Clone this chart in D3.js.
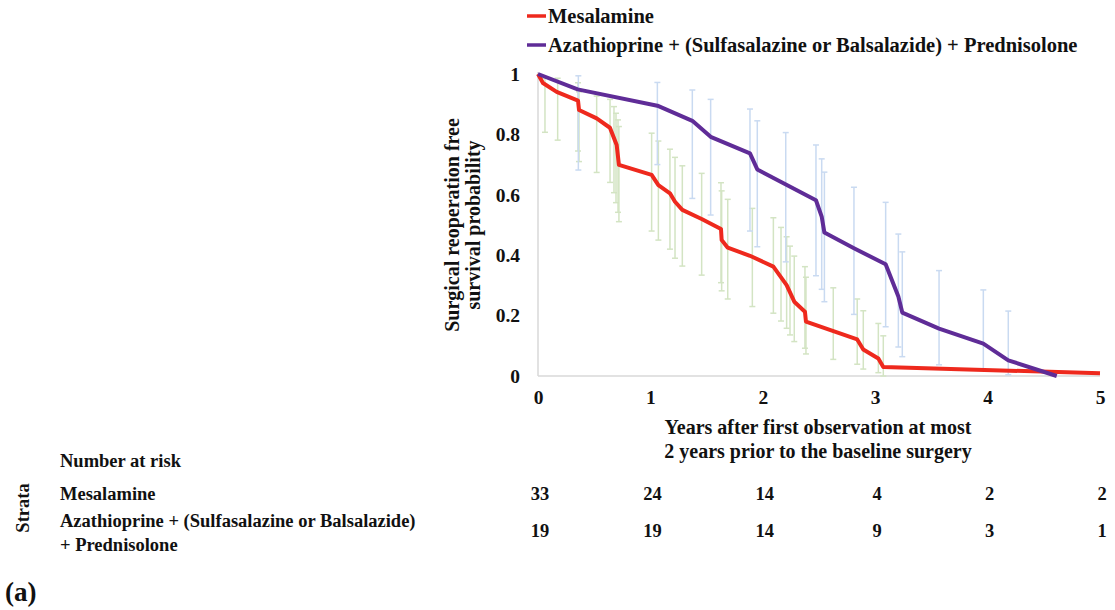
<!DOCTYPE html>
<html>
<head>
<meta charset="utf-8">
<script src="https://cdn.jsdelivr.net/npm/d3@7"></script>
<style>
  body { margin: 0; background: #fff; }
  svg text { font-family: "Liberation Serif", "Times New Roman", serif; font-weight: bold; fill: #111; }
</style>
</head>
<body>
<div id="chart"></div>
<script>
// survival curves (years, probability)
const mesTime = [0, 0.044, 0.166, 0.356, 0.365, 0.522, 0.640, 0.700, 0.720, 1.011, 1.071, 1.174, 1.219, 1.284, 1.456, 1.628, 1.634, 1.688, 1.886, 2.094, 2.212, 2.280, 2.375, 2.384, 2.840, 2.894, 3.028, 3.072, 5.0];
const mesSurv = [1, 0.970, 0.941, 0.912, 0.881, 0.853, 0.822, 0.765, 0.699, 0.666, 0.632, 0.605, 0.577, 0.550, 0.520, 0.487, 0.450, 0.425, 0.398, 0.362, 0.301, 0.246, 0.213, 0.180, 0.121, 0.088, 0.058, 0.030, 0.009];

const azaTime = [0, 0.353, 1.062, 1.373, 1.536, 1.886, 1.951, 2.473, 2.524, 2.548, 2.811, 3.093, 3.206, 3.241, 3.568, 3.962, 4.184, 4.615];
const azaSurv = [1, 0.949, 0.895, 0.845, 0.792, 0.737, 0.684, 0.582, 0.528, 0.475, 0.423, 0.370, 0.263, 0.210, 0.157, 0.107, 0.052, 0.0];

// confidence bars (time, lower, upper)
const mesCiTime = [0.062, 0.175, 0.356, 0.365, 0.522, 0.641, 0.676, 0.694, 0.712, 0.720, 1.011, 1.071, 1.174, 1.219, 1.284, 1.456, 1.628, 1.634, 1.688, 1.907, 2.094, 2.162, 2.212, 2.242, 2.280, 2.375, 2.384, 2.627, 2.840, 2.894, 3.028, 3.072];
const mesCiLow  = [0.807, 0.781, 0.745, 0.710, 0.674, 0.641, 0.607, 0.574, 0.542, 0.511, 0.480, 0.450, 0.420, 0.390, 0.364, 0.334, 0.309, 0.282, 0.255, 0.230, 0.208, 0.182, 0.158, 0.136, 0.114, 0.092, 0.073, 0.055, 0.039, 0.023, 0.011, 0.0];
const mesCiHigh = [0.986, 0.986, 0.971, 0.941, 0.927, 0.916, 0.892, 0.870, 0.848, 0.826, 0.804, 0.778, 0.751, 0.724, 0.696, 0.671, 0.640, 0.613, 0.585, 0.555, 0.524, 0.492, 0.461, 0.430, 0.397, 0.362, 0.327, 0.292, 0.255, 0.216, 0.174, 0.133];

const azaCiTime = [0.359, 1.062, 1.373, 1.536, 1.886, 1.951, 2.204, 2.473, 2.524, 2.548, 2.811, 3.093, 3.206, 3.241, 3.568, 3.962, 4.184];
const azaCiLow  = [0.682, 0.700, 0.588, 0.533, 0.480, 0.428, 0.378, 0.332, 0.287, 0.246, 0.204, 0.163, 0.096, 0.064, 0.037, 0.020, 0.004];
const azaCiHigh = [0.994, 0.972, 0.947, 0.916, 0.884, 0.845, 0.806, 0.765, 0.719, 0.675, 0.625, 0.575, 0.470, 0.411, 0.349, 0.285, 0.215];

const yTicks = [0, 0.2, 0.4, 0.6, 0.8, 1];
const xTicks = [0, 1, 2, 3, 4, 5];
const riskMes = [33, 24, 14, 4, 2, 2];
const riskAza = [19, 19, 14, 9, 3, 1];

const width = 1115, height = 610;
const svg = d3.select("#chart").append("svg")
    .attr("width", width)
    .attr("height", height);

const x = d3.scaleLinear().domain([0, 5]).range([538, 1100]);
const y = d3.scaleLinear().domain([0, 1]).range([376, 74]);

// axes
svg.append("line").attr("x1", x(0)).attr("x2", x(0)).attr("y1", y(1) - 2).attr("y2", y(0))
    .attr("stroke", "#d9d9d9").attr("stroke-width", 1.5);
svg.append("line").attr("x1", x(0)).attr("x2", x(5)).attr("y1", y(0)).attr("y2", y(0))
    .attr("stroke", "#d9d9d9").attr("stroke-width", 1.5);

const yAxis = svg.append("g")
    .attr("transform", "translate(" + x(0) + ",0)")
    .call(d3.axisLeft(y).tickValues(yTicks).tickSize(0).tickPadding(18).tickFormat(d => String(d)));
yAxis.select(".domain").remove();
yAxis.selectAll("text").style("font-size", "19.5px").style("font-family", null);

const xAxis = svg.append("g")
    .attr("transform", "translate(0," + y(0) + ")")
    .call(d3.axisBottom(x).tickValues(xTicks).tickSize(0).tickPadding(14).tickFormat(d => String(d)));
xAxis.select(".domain").remove();
xAxis.selectAll("text").style("font-size", "19.5px").style("font-family", null);

// error bars
function drawBars(times, lows, highs, color) {
    const g = svg.append("g").attr("stroke", color).attr("stroke-width", 1.5).attr("fill", "none");
    times.forEach((t, i) => {
        g.append("line").attr("x1", x(t)).attr("x2", x(t)).attr("y1", y(lows[i])).attr("y2", y(highs[i]));
        g.append("line").attr("x1", x(t) - 3).attr("x2", x(t) + 3).attr("y1", y(lows[i])).attr("y2", y(lows[i]));
        g.append("line").attr("x1", x(t) - 3).attr("x2", x(t) + 3).attr("y1", y(highs[i])).attr("y2", y(highs[i]));
    });
}
drawBars(mesCiTime, mesCiLow, mesCiHigh, "#d3e4c3");
drawBars(azaCiTime, azaCiLow, azaCiHigh, "#c9daf1");

// curves
const line = d3.line().x(d => x(d[0])).y(d => y(d[1]));
svg.append("path").datum(mesTime.map((t, i) => [t, mesSurv[i]]))
    .attr("d", line).attr("fill", "none").attr("stroke", "#ee291d").attr("stroke-width", 4).attr("stroke-linejoin", "round");
svg.append("path").datum(azaTime.map((t, i) => [t, azaSurv[i]]))
    .attr("d", line).attr("fill", "none").attr("stroke", "#5f2c97").attr("stroke-width", 4).attr("stroke-linejoin", "round");

// legend
const legend = [["Mesalamine", "#ee291d"], ["Azathioprine + (Sulfasalazine or Balsalazide) + Prednisolone", "#5f2c97"]];
legend.forEach((d, i) => {
    const ly = 16 + i * 29;
    svg.append("line").attr("x1", 527).attr("x2", 546).attr("y1", ly).attr("y2", ly)
        .attr("stroke", d[1]).attr("stroke-width", 3.5);
    svg.append("text").attr("x", 548).attr("y", ly + 7).style("font-size", "20.5px").text(d[0]);
});

// axis titles
svg.append("text").attr("text-anchor", "middle").attr("x", 818).attr("y", 434)
    .style("font-size", "20px").text("Years after first observation at most");
svg.append("text").attr("text-anchor", "middle").attr("x", 818).attr("y", 458)
    .style("font-size", "20px").text("2 years prior to the baseline surgery");

const yTitle = svg.append("text").attr("text-anchor", "middle")
    .attr("transform", "translate(459,225) rotate(-90)").style("font-size", "20px");
yTitle.append("tspan").attr("x", 0).attr("y", 0).text("Surgical reoperation free");
yTitle.append("tspan").attr("x", 0).attr("y", 21).text("survival probability");

// number at risk table
svg.append("text").attr("x", 60).attr("y", 467).style("font-size", "18.5px").text("Number at risk");
svg.append("text").attr("text-anchor", "middle")
    .attr("transform", "translate(29,508) rotate(-90)").style("font-size", "18.5px").text("Strata");
svg.append("text").attr("x", 60).attr("y", 500).style("font-size", "18.5px").text("Mesalamine");
svg.append("text").attr("x", 60).attr("y", 527).style("font-size", "18.5px").text("Azathioprine + (Sulfasalazine or Balsalazide)");
svg.append("text").attr("x", 60).attr("y", 551).style("font-size", "18.5px").text("+ Prednisolone");

svg.append("g").selectAll("text").data(riskMes).join("text")
    .attr("text-anchor", "middle").attr("x", (d, i) => x(xTicks[i]) + 2).attr("y", 500)
    .style("font-size", "18.5px").text(d => d);
svg.append("g").selectAll("text").data(riskAza).join("text")
    .attr("text-anchor", "middle").attr("x", (d, i) => x(xTicks[i]) + 2).attr("y", 537)
    .style("font-size", "18.5px").text(d => d);

svg.append("text").attr("x", 5).attr("y", 601).style("font-size", "27px").text("(a)");
</script>
</body>
</html>
